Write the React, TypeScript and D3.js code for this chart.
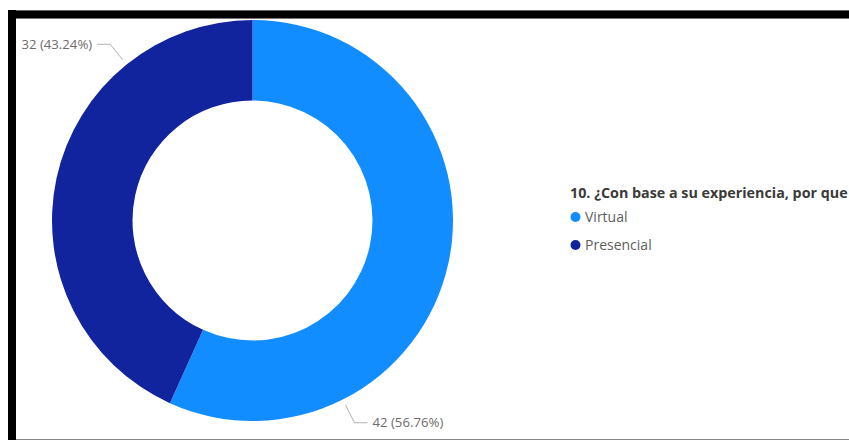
import React from "react";
import * as d3 from "d3";

const categories = ["Virtual", "Presencial"];
const values = [42, 32];
const colors = ["#118DFF", "#12239E"];
const legendTitle = "10. ¿Con base a su experiencia, por que";

export default function App() {
  const W = 849, H = 440;
  const cx = 252.5, cy = 220.5, R = 200.5, r = 120;
  const total = d3.sum(values);
  const pie = d3.pie<number>().sort(null).value((d) => d);
  const arcs = pie(values);
  const arcGen = d3.arc<d3.PieArcDatum<number>>().innerRadius(r).outerRadius(R);
  const font = "'Segoe UI', 'Open Sans', sans-serif";

  const labels = arcs.map((a, i) => {
    const ang = a.startAngle + 0.75 * (a.endAngle - a.startAngle);
    const p = (rad: number) => [cx + rad * Math.sin(ang), cy - rad * Math.cos(ang)];
    const [x1, y1] = p(R + 6);
    const [x2, y2] = p(R + 26);
    const right = Math.sin(ang) > 0;
    const x3 = x2 + (right ? 13 : -13);
    const pct = ((values[i] / total) * 100).toFixed(2);
    return { x1, y1, x2, y2, x3, right, text: `${values[i]} (${pct}%)` };
  });

  return (
    <svg width={W} height={H} style={{ position: "absolute", left: 0, top: 0, background: "#fff" }}>
      <g>
        {arcs.map((a, i) => (
          <path key={i} d={arcGen(a) || ""} transform={`translate(${cx},${cy})`} fill={colors[i]} />
        ))}
      </g>
      {labels.map((l, i) => (
        <g key={i}>
          <polyline
            points={`${l.x1},${l.y1} ${l.x2},${l.y2} ${l.x3},${l.y2}`}
            fill="none"
            stroke="#b3b0ad"
            strokeWidth={1}
          />
          <text
            x={l.x3 + (l.right ? 5 : -5)}
            y={l.y2}
            dy="0.35em"
            textAnchor={l.right ? "start" : "end"}
            fontFamily={font}
            fontSize={13.2}
            fill="#6e6c6a"
          >
            {l.text}
          </text>
        </g>
      ))}
      <text x={570} y={193} dy="0.35em" fontFamily={font} fontSize={14.3} fontWeight="bold" fill="#3b3a39">
        {legendTitle}
      </text>
      {categories.map((c, i) => (
        <g key={c}>
          <circle cx={575.5} cy={217 + i * 28} r={5} fill={colors[i]} />
          <text x={585} y={217 + i * 28} dy="0.35em" fontFamily={font} fontSize={14} fill="#605E5C">
            {c}
          </text>
        </g>
      ))}
      <rect x={8} y={10} width={W - 8} height={9} fill="#000" />
      <line x1={8} x2={W} y1={10.5} y2={10.5} stroke="#666" />
      <line x1={16} x2={W} y1={18.5} y2={18.5} stroke="#777" />
      <rect x={8} y={10} width={8} height={H - 10} fill="#000" />
      <line x1={16} x2={W} y1={439.5} y2={439.5} stroke="#888" />
    </svg>
  );
}
